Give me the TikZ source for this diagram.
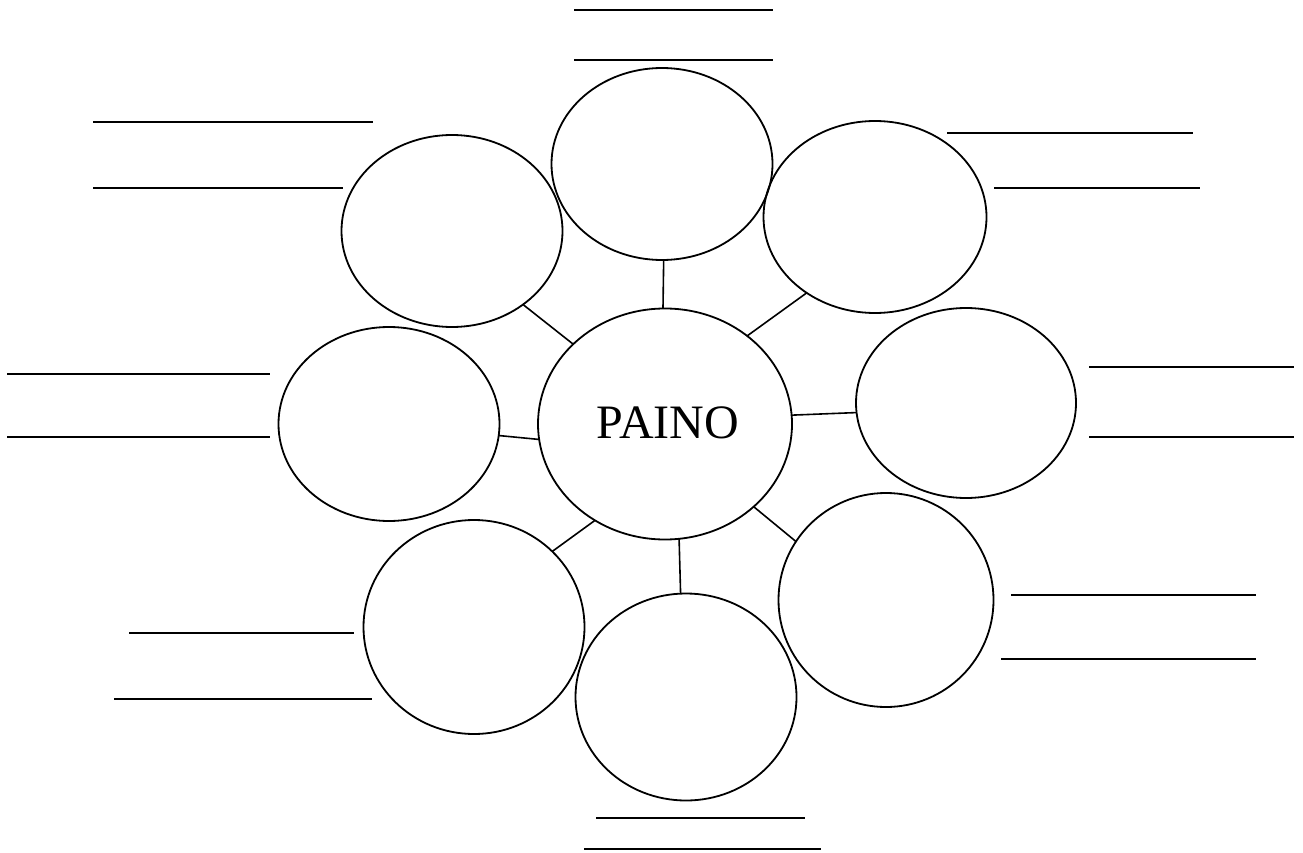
\documentclass[tikz,border=0pt]{standalone}
\usepackage{fontspec}
\setmainfont{Liberation Serif}
\usetikzlibrary{shapes.geometric}
\begin{document}
\begin{tikzpicture}[x=1pt,y=-1pt,
  bubble/.style={ellipse,draw,line width=1.8pt,inner sep=0pt,outer sep=0pt},
  link/.style={line width=1.6pt},
  blank/.style={line width=1.9pt}]
\useasboundingbox (0,0) rectangle (1303,853);
% central
\node[bubble,minimum width=254pt,minimum height=231pt] (c) at (665,424) {};
\node[font=\fontsize{48}{48}\selectfont,inner sep=0pt] (ct) at (668,423) {PAINO};
% satellites
\node[bubble,minimum width=221pt,minimum height=192pt] (t)  at (662,164) {};
\node[bubble,minimum width=221pt,minimum height=192pt] (tl) at (452,231) {};
\node[bubble,minimum width=223pt,minimum height=192pt] (tr) at (875,217) {};
\node[bubble,minimum width=221pt,minimum height=194pt] (l)  at (389,424) {};
\node[bubble,minimum width=220pt,minimum height=190pt] (r)  at (966,403) {};
\node[bubble,minimum width=221pt,minimum height=214pt] (bl) at (474,627) {};
\node[bubble,minimum width=221pt,minimum height=207pt] (b)  at (686,697) {};
\node[bubble,minimum width=215pt,minimum height=214pt] (br) at (886,600) {};
% connectors
\draw[link] (c.91) -- (t.-89.5);
\draw[link] (c.139.5) -- (tl.-46.5);
\draw[link] (c.47.7) -- (tr.-132.6);
\draw[link] (c.187.3) -- (l.-6.7);
\draw[link] (c.4.9) -- (r.185.2);
\draw[link] (c.234.7) -- (bl.44.3);
\draw[link] (c.277.5) -- (b.93.2);
\draw[link] (c.-43.3) -- (br.147.5);
% blank lines
\draw[blank] (574,10) -- (773,10);
\draw[blank] (574,60) -- (773,60);
\draw[blank] (93,122) -- (373,122);
\draw[blank] (93,188) -- (343,188);
\draw[blank] (947,133) -- (1193,133);
\draw[blank] (994,188) -- (1200,188);
\draw[blank] (7,374) -- (270,374);
\draw[blank] (7,437) -- (270,437);
\draw[blank] (1089,367) -- (1294,367);
\draw[blank] (1089,437) -- (1294,437);
\draw[blank] (129,633) -- (354,633);
\draw[blank] (114,699) -- (372,699);
\draw[blank] (1011,595) -- (1256,595);
\draw[blank] (1001,659) -- (1256,659);
\draw[blank] (596,818) -- (805,818);
\draw[blank] (584,849) -- (821,849);
\end{tikzpicture}
\end{document}
